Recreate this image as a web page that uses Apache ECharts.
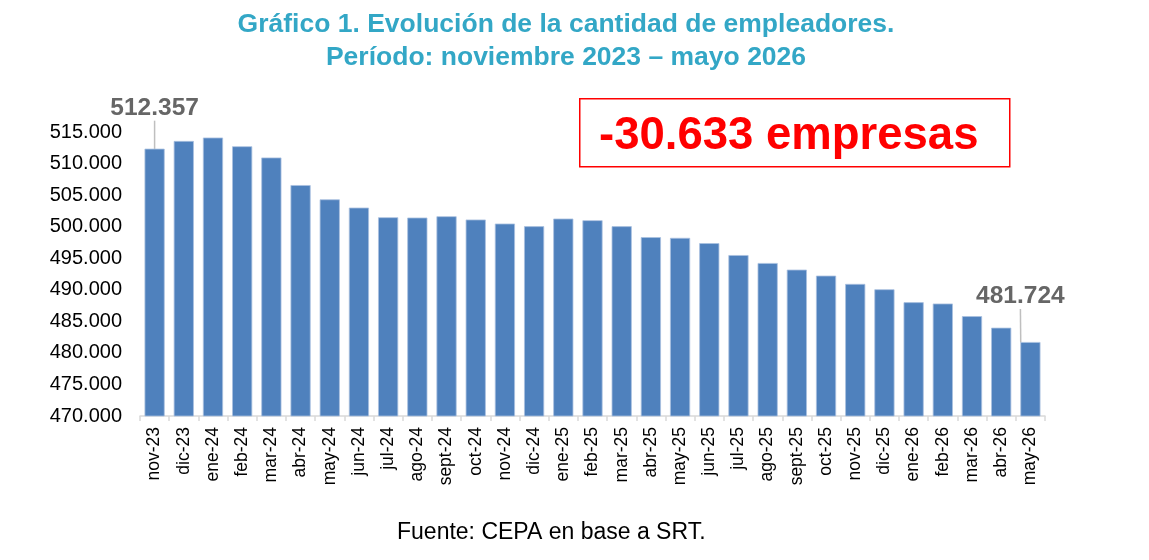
<!DOCTYPE html>
<html>
<head>
<meta charset="utf-8">
<script src="https://cdn.jsdelivr.net/npm/echarts@6/dist/echarts.min.js"></script>
<style>
html,body{margin:0;padding:0;background:#fff;}
#chart{width:1149px;height:560px;}
</style>
</head>
<body>
<div id="chart"></div>
<script>
const categories = ['nov-23','dic-23','ene-24','feb-24','mar-24','abr-24','may-24','jun-24','jul-24','ago-24','sept-24','oct-24','nov-24','dic-24','ene-25','feb-25','mar-25','abr-25','may-25','jun-25','jul-25','ago-25','sept-25','oct-25','nov-25','dic-25','ene-26','feb-26','mar-26','abr-26','may-26'];
const values = [512357, 513580, 514120, 512740, 510960, 506590, 504330, 503020, 501490, 501440, 501650, 501130, 500490, 500070, 501280, 501020, 500070, 498340, 498230, 497390, 495500, 494240, 493190, 492240, 490930, 490080, 488030, 487820, 485820, 483990, 481724];
const yTicks = [470000, 475000, 480000, 485000, 490000, 495000, 500000, 505000, 510000, 515000];
const labeledIndices = [0, 30];
const titleLines = ['Gráfico 1. Evolución de la cantidad de empleadores.', 'Período: noviembre 2023 – mayo 2026'];
const boxText = '-30.633 empresas';
const sourceText = 'Fuente: CEPA en base a SRT.';

function fmt(v){ return String(v).replace(/\B(?=(\d{3})+(?!\d))/g, '.'); }

const seriesData = values.map((v, i) => {
  if (labeledIndices.indexOf(i) >= 0) {
    return {
      value: v,
      label: i === 0
        ? { show: true, position: 'top', distance: 20, padding: [0, 0, 8, 0] }
        : { show: true, position: 'top', distance: 5 },
      labelLine: { show: true, lineStyle: { color: '#BFBFBF', width: 1.5 } }
    };
  }
  return v;
});

const chart = echarts.init(document.getElementById('chart'), null, {renderer: 'canvas'});
chart.setOption({
  animation: false,
  backgroundColor: '#ffffff',
  title: {
    text: titleLines.join('\n'),
    left: 561,
    textAlign: 'center',
    top: 3,
    textStyle: {
      fontFamily: 'Liberation Sans, Arial, sans-serif',
      fontSize: 26.5,
      fontWeight: 'bold',
      color: '#33A7C6',
      lineHeight: 33
    }
  },
  grid: { left: 140, right: 104, top: 132, bottom: 144, containLabel: false },
  xAxis: {
    type: 'category',
    data: categories,
    boundaryGap: true,
    axisLine: { show: true, lineStyle: { color: '#D9D9D9', width: 1.5 } },
    axisTick: { show: true, length: 5, lineStyle: { color: '#D9D9D9', width: 1.5 } },
    axisLabel: {
      rotate: 90,
      interval: 0,
      margin: 11,
      fontFamily: 'Liberation Sans, Arial, sans-serif',
      fontSize: 17.5,
      color: '#000'
    }
  },
  yAxis: {
    type: 'value',
    min: yTicks[0],
    max: yTicks[yTicks.length - 1],
    interval: yTicks[1] - yTicks[0],
    axisLine: { show: false },
    axisTick: { show: false },
    splitLine: { show: false },
    axisLabel: {
      margin: 18,
      fontFamily: 'Liberation Sans, Arial, sans-serif',
      fontSize: 20,
      color: '#000',
      formatter: fmt
    }
  },
  series: [{
    type: 'bar',
    data: seriesData,
    barCategoryGap: '31%',
    itemStyle: { color: '#4F81BD', borderColor: '#A9C0DF', borderWidth: 0.8 },
    label: {
      show: false,
      fontFamily: 'Liberation Sans, Arial, sans-serif',
      fontSize: 24.5,
      fontWeight: 'bold',
      color: '#666666',
      formatter: p => fmt(p.value)
    },
    labelLayout: function (p) {
      if (p.dataIndex === values.length - 1) return { dx: -10, dy: -28 };
      return {};
    }
  }],
  graphic: [
    {
      type: 'rect',
      left: 579, top: 98,
      shape: { width: 430, height: 68 },
      style: { fill: '#fff', stroke: '#FF0000', lineWidth: 1.5 },
      z: 10
    },
    {
      type: 'text',
      left: 599, top: 113,
      style: {
        text: boxText,
        fontFamily: 'Liberation Sans, Arial, sans-serif',
        fontSize: 45.5,
        fontWeight: 'bold',
        fill: '#FF0000'
      },
      z: 11
    },
    {
      type: 'text',
      left: 397, top: 521,
      style: {
        text: sourceText,
        fontFamily: 'Liberation Sans, Arial, sans-serif',
        fontSize: 23,
        fill: '#000'
      }
    }
  ]
});
</script>
</body>
</html>
